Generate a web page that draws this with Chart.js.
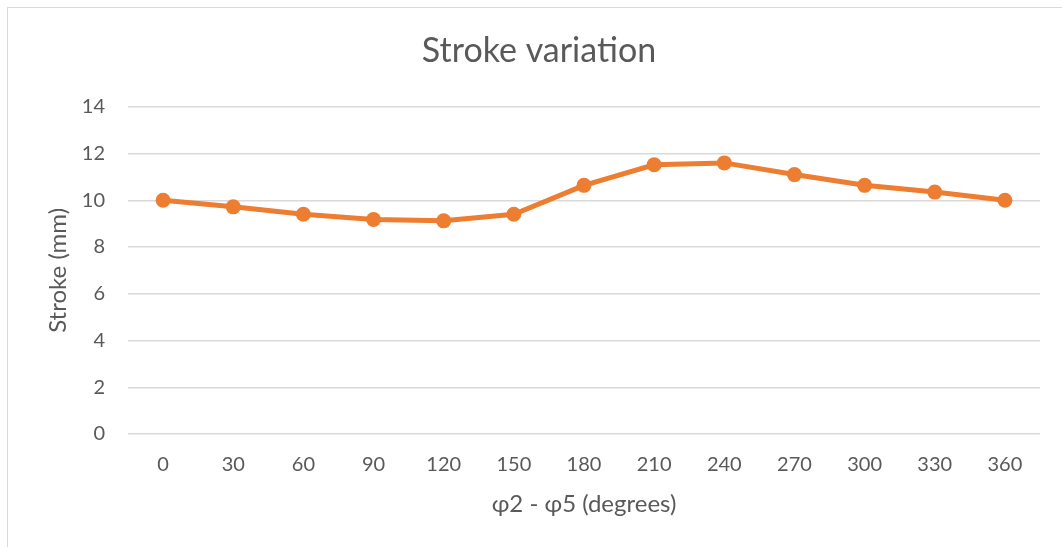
<!DOCTYPE html>
<html>
<head>
<meta charset="utf-8">
<script src="https://cdn.jsdelivr.net/npm/chart.js@4"></script>
<style>
  html, body { margin: 0; padding: 0; background: #fff; overflow: hidden; }
  #wrap { position: relative; width: 1062px; height: 547px; }
  #frame { position: absolute; left: 7px; top: 7px; width: 1100px; height: 600px;
           border-left: 1px solid #d9d9d9; border-top: 1px solid #d9d9d9; }
  canvas { position: absolute; left: 0; top: 0; }
</style>
</head>
<body>
<div id="wrap">
  <div id="frame"></div>
  <canvas id="graf" width="1062" height="547"></canvas>
</div>
<script>
const uhly = ['0', '30', '60', '90', '120', '150', '180', '210', '240', '270', '300', '330', '360'];
const zdvih = [10.0, 9.72, 9.4, 9.18, 9.12, 9.4, 10.64, 11.52, 11.6, 11.1, 10.64, 10.35, 10.0];

const pismo = 'Lato, "Open Sans", sans-serif';
const seda = '#595959';

const data = {
  labels: uhly,
  datasets: [{
    label: 'Stroke',
    data: zdvih,
    borderColor: '#ED7D31',
    backgroundColor: '#ED7D31',
    borderWidth: 5,
    pointRadius: 7.5,
    pointBorderWidth: 0,
    pointBackgroundColor: '#ED7D31',
    tension: 0
  }]
};

var nastavenia = {
  type: 'line',
  data: data,
  options: {
    responsive: false,
    animation: false,
    layout: { padding: { left: 38, right: 22, top: 0, bottom: 0 } },
    plugins: {
      legend: { display: false },
      tooltip: { enabled: false },
      title: {
        display: true,
        text: 'Stroke variation',
        color: seda,
        font: { family: pismo, size: 34, weight: 'normal' },
        padding: { top: 31, bottom: 35 }
      }
    },
    scales: {
      x: {
        offset: true,
        grid: { display: false, drawTicks: false },
        border: { display: false },
        ticks: { color: seda, font: { family: pismo, size: 20 }, padding: 19 },
        title: {
          display: true,
          text: 'φ2 - φ5 (degrees)',
          color: seda,
          font: { family: pismo, size: 24 },
          padding: { top: 0, bottom: 28 }
        },
        afterFit: function (os) { os.height = 113; }
      },
      y: {
        min: 0,
        max: 14,
        ticks: { stepSize: 2, color: seda, font: { family: pismo, size: 20 }, padding: 23 },
        grid: { color: '#d9d9d9', lineWidth: 1.5, drawTicks: false },
        border: { display: false },
        title: {
          display: true,
          text: 'Stroke (mm)',
          color: seda,
          font: { family: pismo, size: 24 },
          padding: { top: 6, bottom: 0 }
        },
        afterFit: function (os) { os.width = 90; }
      }
    }
  }
};

// nakresli graf
var platno = document.getElementById('graf').getContext('2d');
new Chart(platno, nastavenia);
</script>
</body>
</html>
